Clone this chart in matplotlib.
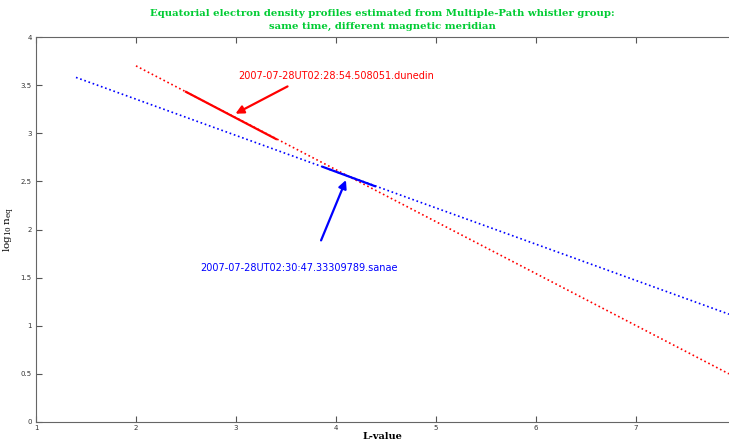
import numpy as np
import matplotlib.pyplot as plt

# dotted model profiles (end points of each straight line in log space)
dun_L = [2.0, 7.93]
dun_n = [3.70, 0.50]
san_L = [1.4, 7.93]
san_n = [3.58, 1.12]

# solid segments = range covered by the whistler traces
dun_seg_L = [2.5, 3.4]
dun_seg_n = [3.43, 2.94]
san_seg_L = [3.87, 4.39]
san_seg_n = [2.65, 2.45]

dun_label = "2007-07-28UT02:28:54.508051.dunedin"
san_label = "2007-07-28UT02:30:47.33309789.sanae"

plt.rcParams['mathtext.fontset'] = 'dejavuserif'

fig = plt.figure(figsize=(7.29, 4.45), dpi=100)
ax = fig.add_axes([36/729, 23/445, 693/729, 385/445])

ax.plot(dun_L, dun_n, color='red', linestyle=':', linewidth=1.2)
ax.plot(san_L, san_n, color='blue', linestyle=':', linewidth=1.2)
ax.plot(dun_seg_L, dun_seg_n, color='red', linewidth=1.6)
ax.plot(san_seg_L, san_seg_n, color='blue', linewidth=1.6)

# arrows with labels
ax.annotate('', xy=(2.97, 3.19), xytext=(3.54, 3.50),
            arrowprops=dict(arrowstyle='-|>', color='red', lw=1.6, mutation_scale=12))
ax.text(3.02, 3.56, dun_label, color='red', fontsize=7, family='DejaVu Sans')
ax.annotate('', xy=(4.11, 2.54), xytext=(3.84, 1.86),
            arrowprops=dict(arrowstyle='-|>', color='blue', lw=1.6, mutation_scale=12))
ax.text(2.64, 1.57, san_label, color='blue', fontsize=7, family='DejaVu Sans')

ax.set_xlim(1, 7.93)
ax.set_ylim(0, 4)
ax.set_xticks(np.arange(1, 8))
ax.set_yticks(np.arange(0, 4.01, 0.5))
ax.set_yticklabels(['0', '0.5', '1', '1.5', '2', '2.5', '3', '3.5', '4'])
ax.tick_params(direction='in', length=4, labelsize=5, colors='#555555',
               top=True, labelcolor='#333333')
ax.tick_params(axis='x', pad=2)
ax.tick_params(axis='y', pad=3)
for s in ax.spines.values():
    s.set_color('#666666')
ax.spines['right'].set_visible(False)

ax.set_xlabel('L-value', family='serif', fontweight='bold', fontsize=7, labelpad=1)
ax.set_ylabel(r'$\mathrm{log}_{10}\,\mathrm{n}_{\mathrm{eq}}$', fontsize=7.5)
ax.yaxis.set_label_coords(-0.027, 0.5)
ax.set_title('Equatorial electron density profiles estimated from Multiple-Path whistler group:\n'
             'same time, different magnetic meridian',
             color='#00cc33', family='serif', fontweight='bold', fontsize=7.3, pad=6,
             linespacing=1.5)

fig.savefig('out.png', dpi=100)
